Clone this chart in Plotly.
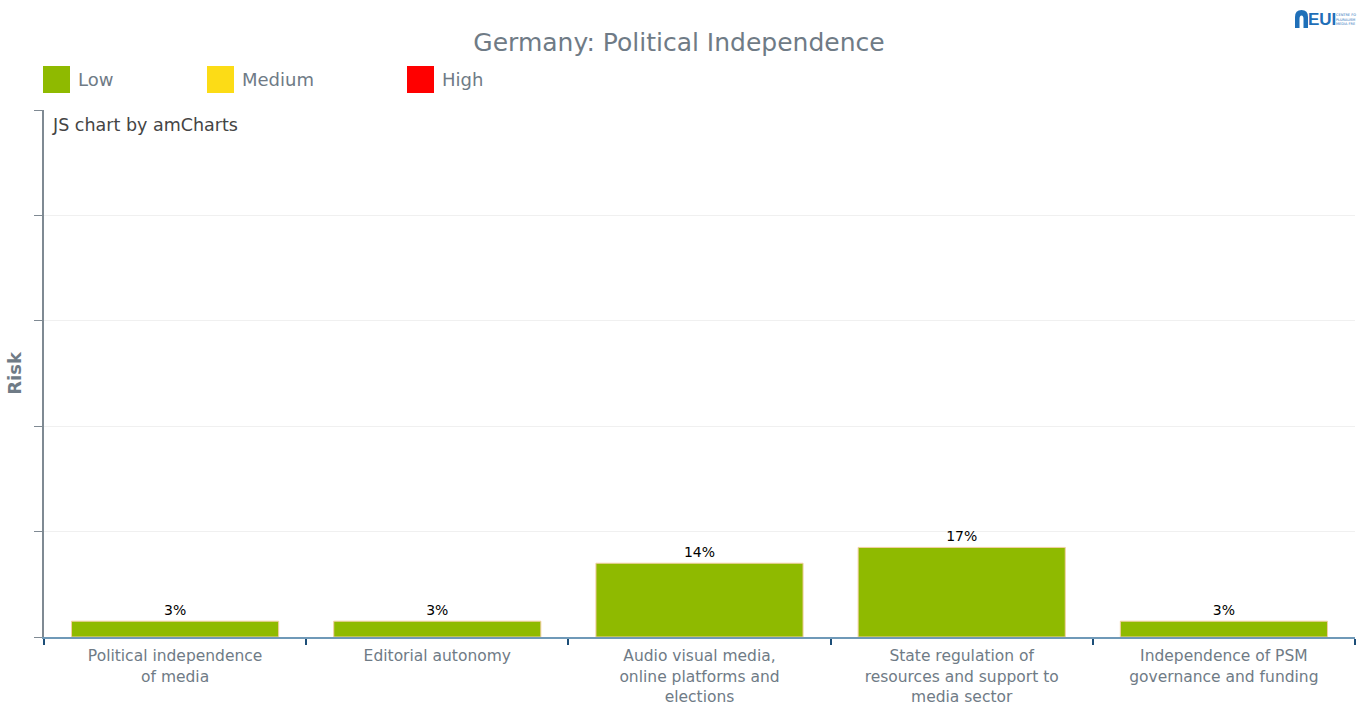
import plotly.graph_objects as go

# Indicator categories and risk scores (percent)
categories = [
    "Political independence<br>of media",
    "Editorial autonomy",
    "Audio visual media,<br>online platforms and<br>elections",
    "State regulation of<br>resources and support to<br>media sector",
    "Independence of PSM<br>governance and funding",
]
risk_values = [3, 3, 14, 17, 3]

# Risk bands shown in the legend
risk_levels = ["Low", "Medium", "High"]
risk_colors = ["#8fba00", "#fcdc16", "#ff0000"]

FONT = "DejaVu Sans, Verdana, sans-serif"
GREY = "#6f7b86"
W, H = 1358, 706
L, R, T, B = 44, 3, 110, 69
PW, PH = W - L - R, H - T - B


def px(x):
    return (x - L) / PW


def py(y):
    return (H - B - y) / PH


fig = go.Figure()
fig.add_trace(go.Bar(
    x=categories,
    y=risk_values,
    marker=dict(color=risk_colors[0], line=dict(color="#f3cfa4", width=1)),
    width=0.79,
    text=[f"{v}%" for v in risk_values],
    textposition="outside",
    textfont=dict(family=FONT, size=14, color="#000000"),
    cliponaxis=False,
    hoverinfo="x+y",
    showlegend=False,
))

fig.update_layout(
    width=W,
    height=H,
    margin=dict(l=L, r=R, t=T, b=B, autoexpand=False),
    paper_bgcolor="white",
    plot_bgcolor="white",
    font=dict(family=FONT, color=GREY),
    title=dict(
        text="Germany: Political Independence",
        x=0.5, xanchor="center", y=0.94, yanchor="middle",
        font=dict(family=FONT, size=25, color=GREY),
    ),
    bargap=0.21,
    xaxis=dict(
        type="category",
        automargin=False,
        showline=True, linecolor="#6f99b8", linewidth=1.5,
        ticks="outside", tickson="boundaries", ticklen=6, tickcolor="#1d4e78",
        tickwidth=1.5,
        ticklabelstandoff=4,
        tickfont=dict(family=FONT, size=15.5, color=GREY),
        showgrid=False,
    ),
    yaxis=dict(
        range=[0, 100], dtick=20,
        automargin=False,
        showticklabels=False,
        showline=True, linecolor="#7f8a93", linewidth=1.5,
        ticks="outside", ticklen=8, tickcolor="#7f8a93", tickwidth=1,
        showgrid=True, gridcolor="#f0f0f0", gridwidth=1,
        zeroline=False,
        title=dict(text="<b>Risk</b>", font=dict(family=FONT, size=18, color=GREY), standoff=8),
    ),
)

# Legend: coloured squares with level names
legend_x = [43, 207, 407]
for name, color, lx in zip(risk_levels, risk_colors, legend_x):
    fig.add_shape(
        type="rect", xref="paper", yref="paper",
        x0=px(lx), x1=px(lx + 27), y0=py(93), y1=py(66),
        fillcolor=color, line=dict(width=0),
    )
    fig.add_annotation(
        x=px(lx + 33), y=py(79.5),
        xref="paper", yref="paper", xanchor="left", yanchor="middle",
        text=name, showarrow=False,
        font=dict(family=FONT, size=18, color=GREY),
    )

# Credit line inside the plot area
fig.add_annotation(
    x=px(50), y=py(125),
    xref="paper", yref="paper", xanchor="left", yanchor="middle",
    text="JS chart by amCharts", showarrow=False,
    font=dict(family=FONT, size=17.5, color="#444444"),
)

# EUI mark at the top right: arch icon, wordmark and small caption
fig.add_shape(
    type="path", xref="paper", yref="paper",
    path=(f"M {px(1295)} {py(28)} L {px(1295)} {py(17)} "
          f"Q {px(1295)} {py(10)} {px(1301.5)} {py(10)} "
          f"Q {px(1308)} {py(10)} {px(1308)} {py(17)} "
          f"L {px(1308)} {py(28)} L {px(1303.5)} {py(28)} L {px(1303.5)} {py(19)} "
          f"Q {px(1303.5)} {py(15.5)} {px(1301.5)} {py(15.5)} "
          f"Q {px(1299.5)} {py(15.5)} {px(1299.5)} {py(19)} "
          f"L {px(1299.5)} {py(28)} Z"),
    fillcolor="#1f6fb8", line=dict(width=0),
)
fig.add_annotation(
    x=px(1322), y=py(19.5), xref="paper", yref="paper",
    xanchor="center", yanchor="middle",
    text="<b>EUI</b>", showarrow=False,
    font=dict(family="Liberation Sans Narrow, Arial Narrow, sans-serif", size=17, color="#1f6fb8"),
)
fig.add_annotation(
    x=px(1334), y=py(19), xref="paper", yref="paper",
    xanchor="left", yanchor="middle",
    text="CENTRE FO<br>PLURALISM<br>MEDIA FRE", showarrow=False, align="left",
    font=dict(family=FONT, size=3.5, color="#1f6fb8"),
)

fig.write_html("out.html")
